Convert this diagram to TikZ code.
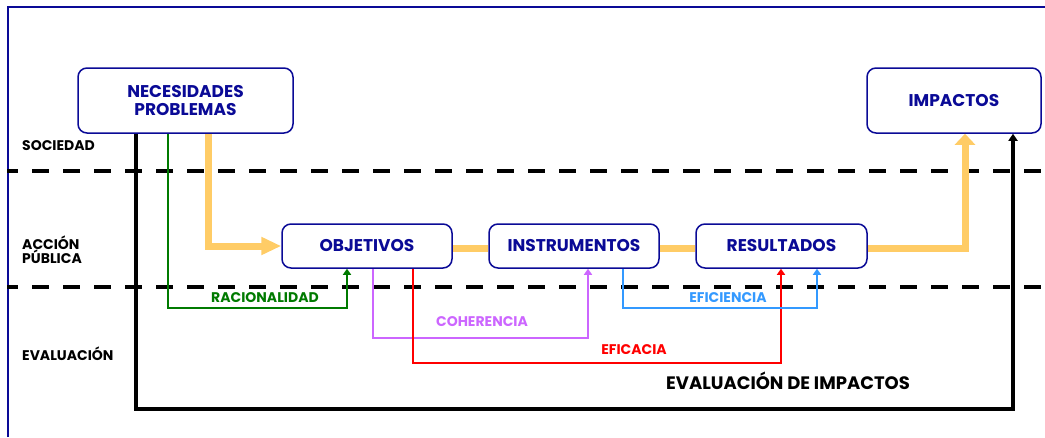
\documentclass[tikz,border=0pt]{standalone}
\usepackage{fontspec}
\setmainfont{Poppins}
\usetikzlibrary{arrows.meta}
\definecolor{navy}{HTML}{0A0A96}
\definecolor{orng}{HTML}{FFCC66}
\definecolor{grn}{HTML}{007A00}
\definecolor{vio}{HTML}{CC66FF}
\definecolor{rd}{HTML}{FF0000}
\definecolor{blu}{HTML}{3399FF}
\tikzset{
  box/.style={draw=navy, line width=1.5pt, rounded corners=9pt, text=navy,
    font=\fontsize{17}{18}\selectfont\bfseries, align=center, inner sep=0pt},
  side/.style={anchor=west, font=\fontsize{14}{14}\selectfont\bfseries, align=left, inner sep=0pt},
  lbl/.style={font=\fontsize{14}{14}\selectfont\bfseries, inner sep=0pt},
  dashline/.style={line width=4.2pt, dash pattern=on 17pt off 14pt, dash phase=6pt},
  thin/.style={line width=2.9pt, -{Triangle[length=6pt,width=8pt]}},
  orline/.style={orng, line width=7pt},
}
\begin{document}
\begin{tikzpicture}[x=1pt,y=-1pt]
\useasboundingbox (0,0) rectangle (1045,437);
% frame
\draw[navy, line width=1.4pt] (8,437) -- (8,7) -- (1045,7);
% dashed separators
\draw[dashline] (7,171) -- (1045,171);
\draw[dashline] (7,287) -- (1045,287);
% nodes
\node[box, minimum width=215pt, minimum height=65pt] (nec) at (185.5,100.5) {NECESIDADES\\PROBLEMAS};
\node[box, minimum width=174pt, minimum height=65pt] (imp) at (954,100.5) {IMPACTOS};
\node[box, minimum width=170pt, minimum height=44pt] (obj) at (367,246) {OBJETIVOS};
\node[box, minimum width=170pt, minimum height=44pt] (ins) at (574,246) {INSTRUMENTOS};
\node[box, minimum width=171pt, minimum height=44pt] (res) at (781.5,246) {RESULTADOS};
% side labels
\node[side] (soc) at (22,146) {SOCIEDAD};
\node[side] (acc) at (22,250) {ACCIÓN\\PÚBLICA};
\node[side] (eva) at (22,354) {EVALUACIÓN};
% coordinates
\coordinate (b1) at (136,409); \coordinate (b2) at (1013,409);
\coordinate (g1) at (168,308); \coordinate (g2) at (347,308);
\coordinate (o1) at (208,0);   \coordinate (o2) at (965,0);
\coordinate (v1) at (373,338); \coordinate (v2) at (588,338);
\coordinate (r1) at (413,363); \coordinate (r2) at (781,363);
\coordinate (e1) at (623,308); \coordinate (e2) at (817,308);
% black evaluation de impactos
\draw[line width=3.2pt, -{Triangle[length=7pt,width=9pt]}] (nec.south -| b1) -- (b1) -- (b2) -- (imp.south -| b2);
% green
\draw[grn, thin] (nec.south -| g1) -- (g1) -- (g2) -- (obj.south -| g2);
% orange main flow
\draw[orline, -{Triangle[length=20pt,width=17pt]}] (nec.south -| o1) |- (obj.west);
\draw[orline] ([yshift=-2pt]obj.east) -- ([yshift=-2pt]ins.west);
\draw[orline] ([yshift=-2pt]ins.east) -- ([yshift=-2pt]res.west);
\draw[orline, -{Triangle[length=11pt,width=20pt]}] ([yshift=-2pt]res.east) -| (imp.south -| o2);
% violet
\draw[vio, thin] (obj.south -| v1) -- (v1) -- (v2) -- (ins.south -| v2);
% red
\draw[rd, thin] (obj.south -| r1) -- (r1) -- (r2) -- (res.south -| r2);
% blue
\draw[blu, thin] (ins.south -| e1) -- (e1) -- (e2) -- (res.south -| e2);
% labels
\node[lbl, text=grn] (lr) at (265,298) {RACIONALIDAD};
\node[lbl, text=vio] (lc) at (482,322) {COHERENCIA};
\node[lbl, text=rd] (le) at (634,350) {EFICACIA};
\node[lbl, text=blu] (lf) at (728,298) {EFICIENCIA};
\node[font=\fontsize{18}{18}\selectfont\bfseries, inner sep=0pt] (lei) at (788,381) {EVALUACIÓN DE IMPACTOS};
\end{tikzpicture}
\end{document}
